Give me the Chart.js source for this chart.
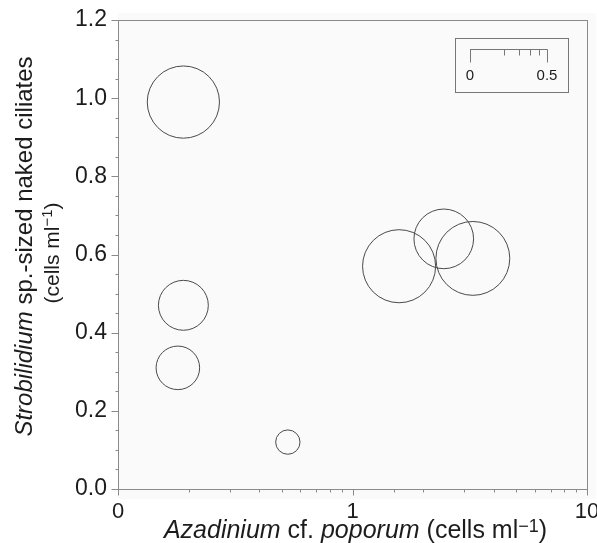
<!DOCTYPE html>
<html>
<head>
<meta charset="utf-8">
<script src="https://cdn.jsdelivr.net/npm/chart.js@4"></script>
<style>
html,body{margin:0;padding:0;background:#fff;}
#wrap{width:597px;height:543px;position:relative;}
</style>
</head>
<body>
<div id="wrap"><canvas id="c"></canvas></div>
<script>
// ---- data ----
const xValues = [0.19, 0.19, 0.18, 0.53, 1.58, 2.45, 3.26];   // Azadinium cf. poporum (log axis, 0 shown at 0.1)
const yValues = [0.99, 0.47, 0.31, 0.12, 0.57, 0.64, 0.59];   // Strobilidium sp.-sized naked ciliates
const sizeValues = [0.44, 0.21, 0.16, 0.05, 0.45, 0.30, 0.46]; // bubble size variable (scale 0 - 0.5)
const xTickValues = [0.1, 1, 10];
const xTickLabels = ['0', '1', '10'];
const yTickValues = [0, 0.2, 0.4, 0.6, 0.8, 1.0, 1.2];
const sizeScaleTicks = [0, 0.1, 0.2, 0.3, 0.4, 0.5];
const sizeScaleLabels = ['0', '0.5'];

const SIZE_MAX = 0.5;
const SIZE_MAX_DIAM = 77;
function radiusFor(v){ return SIZE_MAX_DIAM / 2 * Math.sqrt(v / SIZE_MAX); }

const FONT = '"Liberation Sans", Arial, Helvetica, sans-serif';
const TXT = '#1c1c1c';
const AX = '#8a8a8a';

const points = xValues.map((x, i) => ({ x: x, y: yValues[i], r: radiusFor(sizeValues[i]) }));

function near(a, b){ return Math.abs(a - b) < 1e-6 * Math.max(1, Math.abs(b)); }

function segFont(s, size, sup){ return (s.italic ? 'italic ' : '') + (s.sup ? sup : size) + 'px ' + FONT; }
function drawRich(ctx, segs, x, y, size, sup, rise){
  let total = 0;
  const meas = segs.map(s => { ctx.font = segFont(s, size, sup); const w = ctx.measureText(s.t).width; total += w; return w; });
  let cx = x - total / 2;
  segs.forEach((s, i) => {
    ctx.font = segFont(s, size, sup);
    ctx.fillText(s.t, cx, y + (s.sup ? -rise : 0));
    cx += meas[i];
  });
}

function zeroPad(s){ s.paddingLeft = 0; s.paddingRight = 0; s.paddingTop = 0; s.paddingBottom = 0; }

const decor = {
  id: 'decor',
  beforeDraw(chart){
    const ctx = chart.ctx, a = chart.chartArea;
    ctx.save();
    ctx.fillStyle = '#fafafa';
    ctx.fillRect(a.left, a.top - 7, a.right - a.left + 9, a.bottom - a.top + 17);
    ctx.restore();
  },
  afterDraw(chart){
    const ctx = chart.ctx, a = chart.chartArea;
    const xs = chart.scales.x, ys = chart.scales.y;
    ctx.save();
    ctx.strokeStyle = AX;
    ctx.lineWidth = 1;
    ctx.strokeRect(Math.round(a.left) + 0.5, Math.round(a.top) + 0.5,
                   Math.round(a.right - a.left), Math.round(a.bottom - a.top));
    const by = Math.round(a.bottom) + 0.5;
    xs.ticks.forEach(t => {
      const px = Math.round(xs.getPixelForValue(t.value)) + 0.5;
      const major = xTickValues.some(v => near(v, t.value));
      ctx.beginPath(); ctx.moveTo(px, by); ctx.lineTo(px, by + (major ? 6 : 3)); ctx.stroke();
    });
    const lx = Math.round(a.left) + 0.5;
    ys.ticks.forEach(t => {
      const py = Math.round(ys.getPixelForValue(t.value)) + 0.5;
      const major = yTickValues.some(v => near(v, t.value));
      ctx.beginPath(); ctx.moveTo(lx, py); ctx.lineTo(lx - (major ? 7 : 3), py); ctx.stroke();
    });
    // size legend
    const bx = 455, bTop = 38, bw = 113, bh = 54;
    ctx.strokeStyle = '#777';
    ctx.strokeRect(bx + 0.5, bTop + 0.5, bw, bh);
    const x0 = 470, lineY = 49.5;
    ctx.beginPath(); ctx.moveTo(x0, lineY); ctx.lineTo(x0 + 2 * radiusFor(SIZE_MAX) + 0.5, lineY); ctx.stroke();
    sizeScaleTicks.forEach(v => {
      const px = Math.round(x0 + 2 * radiusFor(v)) + 0.5;
      const end = (v === 0 || v === SIZE_MAX);
      ctx.beginPath(); ctx.moveTo(px, lineY); ctx.lineTo(px, lineY + (end ? 13 : 6)); ctx.stroke();
    });
    ctx.fillStyle = TXT;
    ctx.font = '15px ' + FONT;
    ctx.textAlign = 'center';
    ctx.textBaseline = 'alphabetic';
    ctx.fillText(sizeScaleLabels[0], x0, 80);
    ctx.fillText(sizeScaleLabels[1], x0 + 2 * radiusFor(SIZE_MAX), 80);

    ctx.textAlign = 'left';
    drawRich(ctx, [
      {t: 'Azadinium', italic: true},
      {t: ' cf. '},
      {t: 'poporum', italic: true},
      {t: ' (cells ml'},
      {t: '\u22121', sup: true},
      {t: ')'}
    ], (a.left + a.right) / 2 + 3, 538, 25, 18, 6);

    ctx.save();
    ctx.translate(0, (a.top + a.bottom) / 2 - 8);
    ctx.rotate(-Math.PI / 2);
    drawRich(ctx, [
      {t: 'Strobilidium', italic: true},
      {t: ' sp.-sized naked ciliates'}
    ], 0, 32, 24, 17, 7);
    drawRich(ctx, [
      {t: '(cells ml'},
      {t: '\u22121', sup: true},
      {t: ')'}
    ], -6.5, 59, 21, 15, 7);
    ctx.restore();
    ctx.restore();
  }
};

new Chart(document.getElementById('c'), {
  type: 'bubble',
  data: {
    datasets: [{
      data: points,
      backgroundColor: 'rgba(0,0,0,0)',
      borderColor: '#4a4a4a',
      borderWidth: 1,
      hoverBorderWidth: 1,
      hoverRadius: 0
    }]
  },
  options: {
    responsive: true,
    maintainAspectRatio: false,
    animation: false,
    devicePixelRatio: 1,
    layout: { autoPadding: false, padding: { left: 0, top: 20, right: 10, bottom: 0 } },
    plugins: { legend: { display: false }, tooltip: { enabled: false } },
    events: [],
    scales: {
      x: {
        type: 'logarithmic',
        min: 0.1, max: 10,
        grid: { drawOnChartArea: false, drawTicks: false },
        border: { display: false },
        afterFit(s){ s.height = 54; zeroPad(s); },
        ticks: {
          autoSkip: false, maxRotation: 0, minRotation: 0,
          padding: 10,
          color: TXT,
          font: { family: FONT, size: 22 },
          callback(v){
            const i = xTickValues.findIndex(t => near(t, v));
            return i >= 0 ? xTickLabels[i] : '';
          }
        }
      },
      y: {
        type: 'linear',
        min: 0, max: 1.2,
        grid: { drawOnChartArea: false, drawTicks: false },
        border: { display: false },
        afterFit(s){ s.width = 118; zeroPad(s); },
        ticks: {
          stepSize: 0.05,
          autoSkip: false,
          padding: 11,
          color: TXT,
          font: { family: FONT, size: 23 },
          callback(v){
            const i = yTickValues.findIndex(t => near(t, v));
            return i >= 0 ? yTickValues[i].toFixed(1) : '';
          }
        }
      }
    }
  },
  plugins: [decor]
});
</script>
</body>
</html>
